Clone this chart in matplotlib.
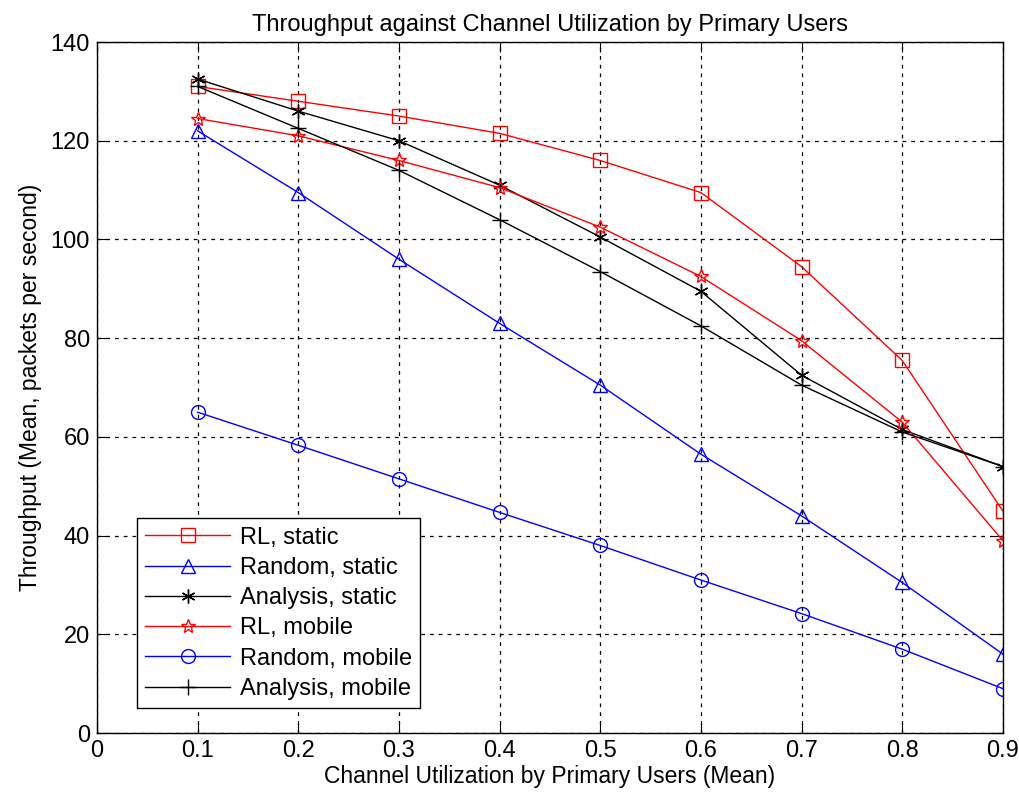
import matplotlib
matplotlib.use("Agg")
from matplotlib import pyplot as plt

plt.rcParams["font.family"] = ["Liberation Sans", "DejaVu Sans"]

x = [0.1, 0.2, 0.3, 0.4, 0.5, 0.6, 0.7, 0.8, 0.9]
rl_static = [131, 128, 125, 121.5, 116, 109.5, 94.5, 75.5, 45]
random_static = [122, 109.5, 96, 83, 70.5, 56.5, 44, 30.5, 16]
analysis_static = [132.5, 126, 120, 111, 100.5, 89.5, 72.5, 61.5, 54]
rl_mobile = [124.5, 121, 116, 110.5, 102.5, 92.5, 79.5, 63, 39]
random_mobile = [65, 58.3, 51.5, 44.7, 38, 31, 24.2, 17, 9]
analysis_mobile = [131, 122.5, 114, 104, 93.5, 82.5, 70.5, 61, 54]

fig = plt.figure(figsize=(10.19, 7.96), dpi=100)
ax = fig.add_axes([0.0952, 0.0791, 0.8889, 0.8681])

ms = 10
ax.plot(x, rl_static, color="red", lw=1, marker="s", ms=ms, mfc="none", mew=1, label="RL, static")
ax.plot(x, random_static, color="blue", lw=1, marker="^", ms=ms, mfc="none", mew=1, label="Random, static")
ax.plot(x, analysis_static, color="black", lw=1, marker=(6, 2, 0), ms=ms, mew=1, label="Analysis, static")
ax.plot(x, rl_mobile, color="red", lw=1, marker="*", ms=ms, mfc="none", mew=1, label="RL, mobile")
ax.plot(x, random_mobile, color="blue", lw=1, marker="o", ms=ms, mfc="none", mew=1, label="Random, mobile")
ax.plot(x, analysis_mobile, color="black", lw=1, marker="+", ms=ms + 2, mew=1, label="Analysis, mobile")

ax.set_xlim(0, 0.9)
ax.set_ylim(0, 140)
ax.set_xticks([0, 0.1, 0.2, 0.3, 0.4, 0.5, 0.6, 0.7, 0.8, 0.9])
ax.set_xticklabels(["0", "0.1", "0.2", "0.3", "0.4", "0.5", "0.6", "0.7", "0.8", "0.9"])
ax.set_yticks(range(0, 141, 20))
ax.grid(True, color="black", linestyle=(0, (3, 4)), linewidth=0.9)
ax.tick_params(direction="in", top=True, right=True, labelsize=17, length=7, pad=5)
for s in ax.spines.values():
    s.set_linewidth(1)

ax.set_title("Throughput against Channel Utilization by Primary Users", fontsize=17, pad=8)
ax.set_xlabel("Channel Utilization by Primary Users (Mean)", fontsize=16.5, labelpad=2)
ax.set_ylabel("Throughput (Mean, packets per second)", fontsize=16.5, labelpad=6)

leg = ax.legend(loc="lower left", bbox_to_anchor=(0.044, 0.036), borderaxespad=0,
                fontsize=17, fancybox=False, edgecolor="black", framealpha=1,
                handlelength=3.6, labelspacing=0.35, borderpad=0.35, handletextpad=0.4)
leg.get_frame().set_linewidth(1)

fig.savefig("out.png", dpi=100)
